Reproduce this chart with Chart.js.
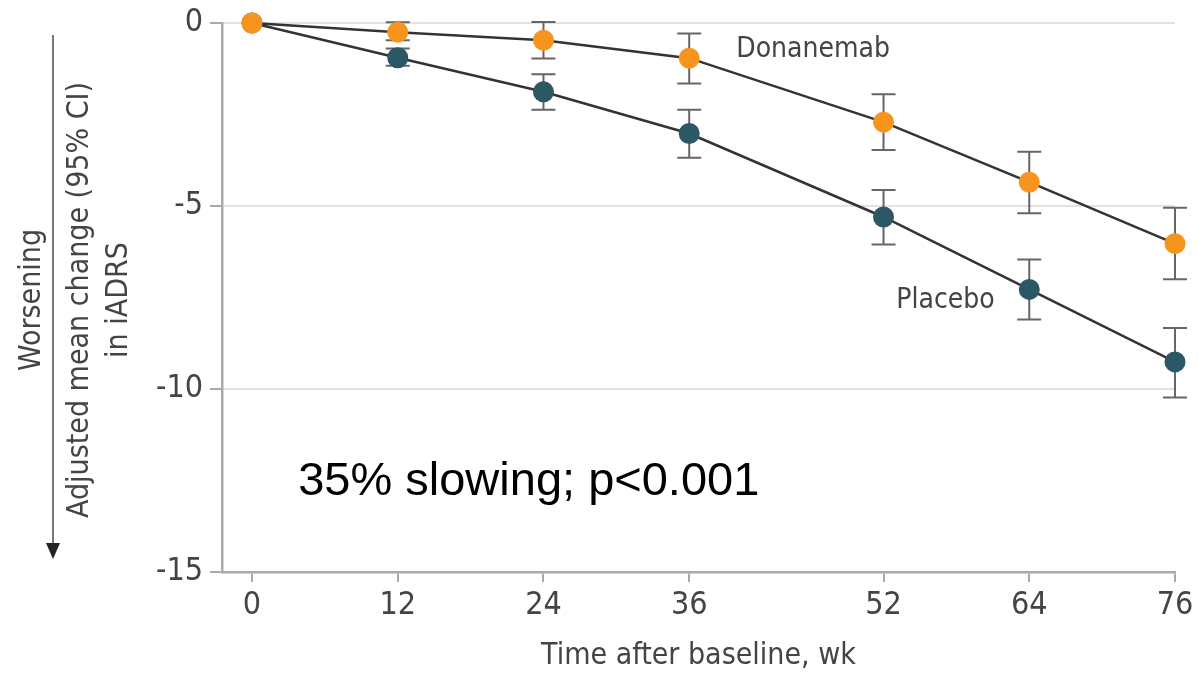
<!DOCTYPE html>
<html>
<head>
<meta charset="utf-8">
<script src="https://cdn.jsdelivr.net/npm/chart.js@4.4.1/dist/chart.umd.min.js"></script>
<style>
  html, body { margin: 0; padding: 0; background: #fff; }
</style>
</head>
<body>
<canvas id="myChart" width="1198" height="676"></canvas>
<script>
// weeks after baseline
const weeks = [0, 12, 24, 36, 52, 64, 76];

// adjusted mean change in iADRS, with 95% CI
const donanemab = [0, -0.25, -0.47, -0.96, -2.71, -4.35, -6.03];
const donanemabHigh = [null, 0.02, 0.03, -0.29, -1.95, -3.52, -5.05];
const donanemabLow = [null, -0.47, -0.97, -1.65, -3.47, -5.20, -7.00];

const placebo = [0, -0.95, -1.88, -3.02, -5.30, -7.28, -9.26];
const placeboHigh = [null, -0.70, -1.40, -2.37, -4.56, -6.46, -8.33];
const placeboLow = [null, -1.17, -2.37, -3.68, -6.05, -8.10, -10.23];

const yTicks = [0, -5, -10, -15];

const fontFamily = "'DejaVu Sans Condensed', 'DejaVu Sans', sans-serif";
const textColor = '#444';
const axisColor = '#aaa';

function toPoints(values) {
    return weeks.map(function (w, i) {
        return { x: w, y: values[i] };
    });
}

const errorBars = [
    { high: donanemabHigh, low: donanemabLow },
    { high: placeboHigh, low: placeboLow }
];

const extras = {
    id: 'extras',
    beforeDatasetsDraw(chart) {
        const ctx = chart.ctx;
        const xs = chart.scales.x;
        const ys = chart.scales.y;
        ctx.save();
        ctx.strokeStyle = '#666';
        ctx.lineWidth = 2;
        errorBars.forEach(function (bars) {
            weeks.forEach(function (w, i) {
                if (bars.high[i] === null) return;
                const x = xs.getPixelForValue(w);
                const y1 = ys.getPixelForValue(bars.high[i]);
                const y2 = ys.getPixelForValue(bars.low[i]);
                ctx.beginPath();
                ctx.moveTo(x, y1);
                ctx.lineTo(x, y2);
                ctx.moveTo(x - 12, y1);
                ctx.lineTo(x + 12, y1);
                ctx.moveTo(x - 12, y2);
                ctx.lineTo(x + 12, y2);
                ctx.stroke();
            });
        });
        ctx.restore();
    },
    afterDraw(chart) {
        const ctx = chart.ctx;
        const xs = chart.scales.x;
        const ys = chart.scales.y;
        ctx.save();

        // series labels
        ctx.fillStyle = textColor;
        ctx.font = '28px ' + fontFamily;
        ctx.textAlign = 'center';
        ctx.textBaseline = 'middle';
        ctx.fillText('Donanemab', xs.getPixelForValue(46.2), ys.getPixelForValue(-0.72));
        ctx.fillText('Placebo', xs.getPixelForValue(57.1), ys.getPixelForValue(-7.6));

        // result note
        ctx.fillStyle = '#000';
        ctx.font = "47px 'Liberation Sans', Arial, sans-serif";
        ctx.textAlign = 'left';
        ctx.textBaseline = 'alphabetic';
        ctx.fillText('35% slowing; p<0.001', xs.getPixelForValue(3.8), 495);

        // y axis title
        ctx.save();
        ctx.translate(0, 300);
        ctx.rotate(-Math.PI / 2);
        ctx.font = '30px ' + fontFamily;
        ctx.fillStyle = textColor;
        ctx.textAlign = 'center';
        ctx.textBaseline = 'middle';
        ctx.fillText('Adjusted mean change (95% CI)', 0, 80);
        ctx.fillText('in iADRS', 0, 119);
        ctx.fillText('Worsening', 0, 32);
        ctx.restore();

        // worsening arrow
        ctx.strokeStyle = '#777';
        ctx.lineWidth = 2;
        ctx.beginPath();
        ctx.moveTo(53, 35);
        ctx.lineTo(53, 546);
        ctx.stroke();
        ctx.fillStyle = '#222';
        ctx.beginPath();
        ctx.moveTo(46, 543);
        ctx.lineTo(60, 543);
        ctx.lineTo(53, 559);
        ctx.closePath();
        ctx.fill();

        ctx.restore();
    }
};

const data = {
    datasets: [{
        label: 'Donanemab',
        data: toPoints(donanemab),
        borderColor: '#333',
        borderWidth: 2.5,
        pointBackgroundColor: '#F7941E',
        pointBorderColor: '#F7941E',
        pointBorderWidth: 0,
        pointRadius: 10.5,
        clip: false,
        order: 0
    }, {
        label: 'Placebo',
        data: toPoints(placebo),
        borderColor: '#333',
        borderWidth: 2.5,
        pointBackgroundColor: '#2C5866',
        pointBorderColor: '#2C5866',
        pointBorderWidth: 0,
        pointRadius: 10.5,
        clip: false,
        order: 1
    }]
};

const config = {
    type: 'line',
    data,
    options: {
        responsive: false,
        animation: false,
        layout: {
            padding: { top: 22, right: 23, left: 0, bottom: 0 }
        },
        plugins: {
            legend: { display: false },
            tooltip: { enabled: false }
        },
        scales: {
            x: {
                type: 'linear',
                min: -2.47,
                max: 76,
                afterBuildTicks: function (scale) {
                    scale.ticks = weeks.map(function (w) { return { value: w }; });
                },
                afterFit: function (scale) {
                    scale.height = 104;
                },
                ticks: {
                    font: { family: fontFamily, size: 32 },
                    color: textColor,
                    padding: 4,
                    maxRotation: 0
                },
                grid: {
                    drawOnChartArea: false,
                    tickLength: 10,
                    tickColor: axisColor,
                    lineWidth: 2
                },
                border: { color: axisColor, width: 2.5 },
                title: {
                    display: true,
                    text: 'Time after baseline, wk',
                    font: { family: fontFamily, size: 30 },
                    color: textColor,
                    padding: { top: 0, bottom: 2 }
                }
            },
            y: {
                min: -15,
                max: 0,
                afterBuildTicks: function (scale) {
                    scale.ticks = yTicks.map(function (v) { return { value: v }; });
                },
                afterFit: function (scale) {
                    scale.width = 222;
                },
                ticks: {
                    font: { family: fontFamily, size: 32, lineHeight: 1 },
                    color: textColor,
                    padding: 7
                },
                grid: {
                    color: function (c) {
                        return c.tick && c.tick.value === -15 ? axisColor : '#e2e2e2';
                    },
                    lineWidth: 2,
                    tickLength: 12,
                    tickColor: axisColor
                },
                border: { color: axisColor, width: 2.5 }
            }
        }
    },
    plugins: [extras]
};

const myChart = new Chart(
    document.getElementById('myChart'),
    config
);
</script>
</body>
</html>
